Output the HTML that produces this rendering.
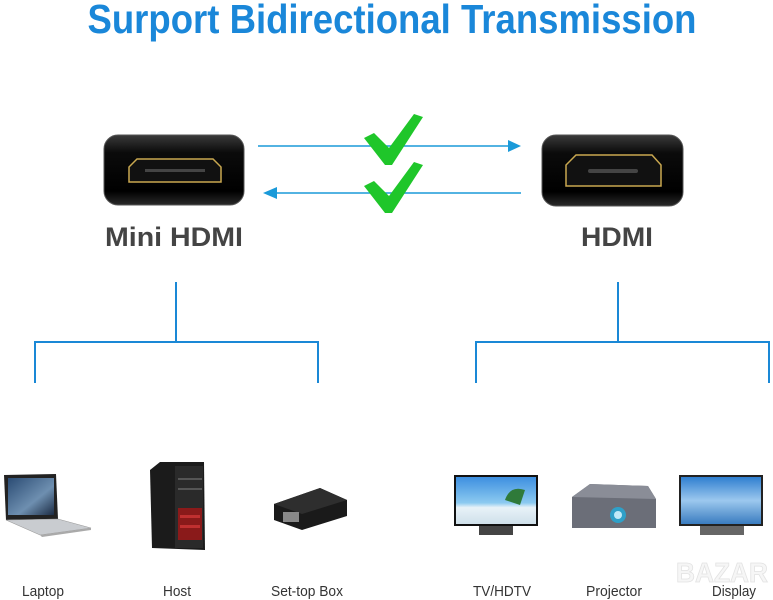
<!DOCTYPE html>
<html><head><meta charset="utf-8"><style>
html,body{margin:0;padding:0;background:#fff;}
svg{display:block;}
</style></head><body>
<svg width="773" height="600" viewBox="0 0 773 600" xmlns="http://www.w3.org/2000/svg">
<defs>
<linearGradient id="bx" x1="0" y1="0" x2="0" y2="1">
<stop offset="0" stop-color="#3a3a3a"/><stop offset="0.25" stop-color="#0b0b0b"/><stop offset="0.8" stop-color="#000"/><stop offset="1" stop-color="#2a2a2a"/>
</linearGradient>
<linearGradient id="sky" x1="0" y1="0" x2="0" y2="1">
<stop offset="0" stop-color="#2f7fd0"/><stop offset="0.5" stop-color="#9cc8ee"/><stop offset="1" stop-color="#3a7cc0"/>
</linearGradient>
<linearGradient id="beach" x1="0" y1="0" x2="0" y2="1">
<stop offset="0" stop-color="#3d8fe0"/><stop offset="0.55" stop-color="#8ccaf0"/><stop offset="0.65" stop-color="#e8f2f8"/><stop offset="1" stop-color="#cfe0ea"/>
</linearGradient>
<linearGradient id="lap" x1="0" y1="0" x2="1" y2="1">
<stop offset="0" stop-color="#2b4c74"/><stop offset="0.6" stop-color="#6e8fb0"/><stop offset="1" stop-color="#1c2c44"/>
</linearGradient>
</defs>

<text x="392" y="33" text-anchor="middle" font-family="Liberation Sans, sans-serif" font-weight="bold" font-size="41" fill="#1a87d9" textLength="609" lengthAdjust="spacingAndGlyphs">Surport Bidirectional Transmission</text>

<rect x="104" y="135" width="140" height="70" rx="14" fill="url(#bx)" stroke="#555" stroke-width="1"/>
<path d="M129,182 L129,167 L137,159 L213,159 L221,167 L221,182 Z" fill="#111" stroke="#c9a850" stroke-width="1.5"/>
<rect x="145" y="169" width="60" height="3" fill="#444"/>
<rect x="542" y="135" width="141" height="71" rx="14" fill="url(#bx)" stroke="#555" stroke-width="1"/>
<path d="M566,186 L566,165 L576,155 L652,155 L661,165 L661,186 Z" fill="#111" stroke="#c9a850" stroke-width="1.5"/>
<rect x="588" y="169" width="50" height="4" rx="2" fill="#444"/>

<line x1="258" y1="146" x2="510" y2="146" stroke="#1a9ad9" stroke-width="1.6"/>
<polygon points="508,140 521,146 508,152" fill="#1a9ad9"/>
<line x1="275" y1="193" x2="521" y2="193" stroke="#1a9ad9" stroke-width="1.6"/>
<polygon points="277,187 263,193 277,199" fill="#1a9ad9"/>

<path d="M364,138 L374,133 L389,148 L414,114 L423,117 L392,165 L385,165 Z" fill="#1fc62a"/>
<path d="M364,186 L374,181 L389,196 L414,162 L423,165 L392,213 L385,213 Z" fill="#1fc62a"/>

<text x="174" y="246" text-anchor="middle" font-family="Liberation Sans, sans-serif" font-weight="bold" font-size="27" fill="#444" textLength="138" lengthAdjust="spacingAndGlyphs">Mini HDMI</text>
<text x="617" y="246" text-anchor="middle" font-family="Liberation Sans, sans-serif" font-weight="bold" font-size="27" fill="#444" textLength="72" lengthAdjust="spacingAndGlyphs">HDMI</text>

<g stroke="#1a88d6" stroke-width="2" fill="none">
<path d="M176,282 V342"/><path d="M35,383 V342 H318 V383"/>
<path d="M618,282 V342"/><path d="M476,383 V342 H769 V383"/>
</g>

<path d="M4,475 L56,474 L58,519 L6,520 Z" fill="#222"/>
<rect x="8" y="478" width="46" height="37" fill="url(#lap)"/>
<path d="M6,520 L58,519 L91,528 L40,535 Z" fill="#c9ccd0" stroke="#999" stroke-width="0.6"/>
<path d="M40,535 L91,528 L91,530 L42,537 Z" fill="#aaa"/>
<path d="M150,470 L160,462 L204,462 L205,550 L152,548 Z" fill="#1b1b1b"/>
<rect x="175" y="466" width="28" height="82" fill="#2a2a2a"/>
<path d="M178,508 L202,508 L202,540 L178,540 Z" fill="#8a1a1a"/>
<rect x="180" y="515" width="20" height="3" fill="#c03030"/>
<rect x="180" y="525" width="20" height="3" fill="#c03030"/>
<rect x="178" y="478" width="24" height="2" fill="#555"/>
<rect x="178" y="488" width="24" height="2" fill="#555"/>
<path d="M274,504 L320,488 L347,500 L347,516 L302,530 L274,520 Z" fill="#1a1a1a"/>
<path d="M274,504 L302,514 L347,500 L320,488 Z" fill="#2e2e2e"/>
<rect x="283" y="512" width="16" height="10" fill="#888"/>
<rect x="454" y="475" width="84" height="51" fill="#111"/>
<rect x="456" y="477" width="80" height="47" fill="url(#beach)"/>
<path d="M505,500 Q510,485 525,490 L520,505 Z" fill="#2f7a3a"/>
<rect x="479" y="526" width="34" height="9" fill="#444"/>
<path d="M572,497 L590,484 L648,486 L656,499 L656,528 L572,528 Z" fill="#6b6e78"/>
<path d="M572,497 L590,484 L648,486 L656,499 Z" fill="#8a8d97"/>
<circle cx="618" cy="515" r="8" fill="#2fa0c8"/>
<circle cx="618" cy="515" r="4" fill="#bfeaf8"/>
<rect x="679" y="475" width="84" height="51" fill="#222"/>
<rect x="681" y="477" width="80" height="47" fill="url(#sky)"/>
<rect x="700" y="526" width="44" height="9" fill="#666"/>

<text x="676" y="582" font-family="Liberation Sans, sans-serif" font-weight="bold" font-size="28" fill="#f6f6f6" stroke="#e2e2e2" stroke-width="0.8" textLength="92" lengthAdjust="spacingAndGlyphs">BAZAR</text>
<g font-family="Liberation Sans, sans-serif" font-size="15" fill="#333" text-anchor="middle">
<text x="43" y="596" textLength="42" lengthAdjust="spacingAndGlyphs">Laptop</text>
<text x="177" y="596" textLength="28" lengthAdjust="spacingAndGlyphs">Host</text>
<text x="307" y="596" textLength="72" lengthAdjust="spacingAndGlyphs">Set-top Box</text>
<text x="502" y="596" textLength="58" lengthAdjust="spacingAndGlyphs">TV/HDTV</text>
<text x="614" y="596" textLength="56" lengthAdjust="spacingAndGlyphs">Projector</text>
<text x="734" y="596" textLength="44" lengthAdjust="spacingAndGlyphs">Display</text>
</g>
</svg>
</body></html>
